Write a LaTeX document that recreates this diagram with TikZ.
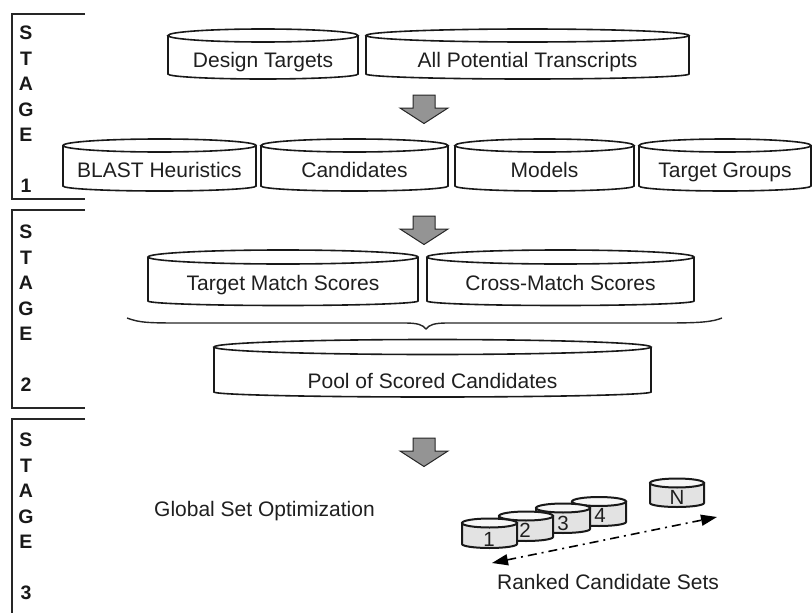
\documentclass[tikz,border=0pt]{standalone}
\usepackage{fontspec}
\setmainfont{Liberation Sans}
\usetikzlibrary{arrows.meta}

\tikzset{
  drumline/.style={line width=1.6pt, draw=black!90},
  drumtext/.style={font=\fontsize{21}{25}\selectfont, inner sep=0pt, anchor=base, text=black!88},
  plaintext/.style={font=\fontsize{21}{25}\selectfont, inner sep=0pt, text=black!88},
  stageframe/.style={line width=2pt, draw=black!85, line join=miter},
  stagelabel/.style={font=\bfseries\fontsize{19.5}{25.5}\selectfont, align=center,
    inner sep=0pt, anchor=north, text=black!90},
  blockarrow/.style={fill=black!42, draw=black!85, line width=1pt, line join=miter},
  minibody/.style={line width=2pt, draw=black!90, fill=black!11},
  minitop/.style={line width=2pt, draw=black!90, fill=black!3},
  mininum/.style={font=\fontsize{20.5}{24}\selectfont, inner sep=0pt, anchor=base, text=black!88},
  bracestyle/.style={line width=1.4pt, draw=black!85},
  rankline/.style={line width=1.6pt, dash pattern=on 9pt off 5pt on 2pt off 5pt,
    {Triangle[length=16pt,width=11pt]}-{Triangle[length=16pt,width=11pt]}},
}

% data store drum: name, left x, right x, top ellipse centre y, top radius,
% bottom corner y, bottom bulge, text baseline y, text
\newcommand{\datadrum}[9]{%
  \pgfmathsetmacro\dcx{(#2+#3)/2}%
  \pgfmathsetmacro\drx{(#3-#2)/2}%
  \draw[drumline] (#2,#4) -- (#2,#6)
     arc[start angle=180, end angle=0, x radius=\drx, y radius=#7] -- (#3,#4);
  \draw[drumline] (\dcx,#4) ellipse[x radius=\drx, y radius=#5];
  \node[drumtext] (#1) at (\dcx,#8) {#9};
}

% small shaded drum of a ranked set: name, left x, right x, top centre y,
% bottom corner y, label x, label baseline y, label
\newcommand{\setdrum}[8]{%
  \pgfmathsetmacro\dcx{(#2+#3)/2}%
  \pgfmathsetmacro\drx{(#3-#2)/2}%
  \draw[minibody] (#2,#4) -- (#2,#5)
     arc[start angle=180, end angle=0, x radius=\drx, y radius=4] -- (#3,#4) -- cycle;
  \draw[minitop] (\dcx,#4) ellipse[x radius=\drx, y radius=4.5];
  \node[mininum] (#1) at (#6,#7) {#8};
}

% grey block arrow pointing down, top edge at the given y
\newcommand{\downblock}[1]{%
  \draw[blockarrow] (413,#1) -- (435,#1) -- (435,{#1+13}) -- (448,{#1+13})
     -- (424,{#1+28.5}) -- (400,{#1+13}) -- (413,{#1+13}) -- cycle;
}

\begin{document}
\begin{tikzpicture}[x=1pt,y=-1pt]
  \useasboundingbox (0,0) rectangle (812,613);

  % stage frames
  \draw[stageframe] (85,14) -- (12,14) -- (12,199) -- (85,199);
  \draw[stageframe] (85,210) -- (12,210) -- (12,408) -- (85,408);
  \draw[stageframe] (85,419) -- (12,419) -- (12,614);

  \node[stagelabel] (stage1) at (26,26)  {S\\T\\A\\G\\E\\[25pt]1};
  \node[stagelabel] (stage2) at (26,225) {S\\T\\A\\G\\E\\[25pt]2};
  \node[stagelabel] (stage3) at (26,433) {S\\T\\A\\G\\E\\[25pt]3};

  % stage 1
  \datadrum{design}{168}{358}{35.5}{6.5}{74}{5}{67}{Design Targets}
  \datadrum{transcripts}{366}{689}{35.5}{6.5}{74}{5}{67}{All Potential Transcripts}
  \downblock{95}
  \datadrum{blast}{63}{256}{145.5}{6.5}{186}{5}{177}{BLAST Heuristics}
  \datadrum{cands}{261}{448}{145.5}{6.5}{186}{5}{177}{Candidates}
  \datadrum{models}{455}{634}{145.5}{6.5}{186}{5}{177}{Models}
  \datadrum{groups}{639}{811}{145.5}{6.5}{186}{5}{177}{Target Groups}

  % stage 2
  \downblock{216}
  \datadrum{tmatch}{148}{418}{257}{7}{301}{4.5}{290}{Target Match Scores}
  \datadrum{xmatch}{427}{694}{257}{7}{301}{4.5}{290}{Cross-Match Scores}
  \draw[bracestyle] (127,318) .. controls (140,323) and (150,323) .. (185,323)
     -- (405,323) .. controls (418,323) and (423,325) .. (426,329)
     .. controls (429,325) and (434,323) .. (447,323)
     -- (665,323) .. controls (700,323) and (712,322) .. (722,318);
  \datadrum{pool}{214}{651}{347}{7.5}{392}{5}{388}{Pool of Scored Candidates}

  % stage 3
  \downblock{438}
  \node[plaintext, anchor=base west] (gso) at (154,516.5) {Global Set Optimization};

  \setdrum{setN}{650}{704}{483}{503}{677}{504}{N}
  \setdrum{set4}{572}{626}{501.5}{522}{600}{522.5}{4}
  \setdrum{set3}{536}{590}{508}{529}{563}{530}{3}
  \setdrum{set2}{499}{553}{516}{537}{525}{537}{2}
  \setdrum{set1}{462}{517}{523}{544}{489}{546.5}{1}

  \coordinate (rankL) at (492,563);
  \coordinate (rankR) at (717,517);
  \draw[rankline] (rankL) -- (rankR);
  \node[plaintext, anchor=base] (ranked) at (608,589) {Ranked Candidate Sets};
\end{tikzpicture}
\end{document}
